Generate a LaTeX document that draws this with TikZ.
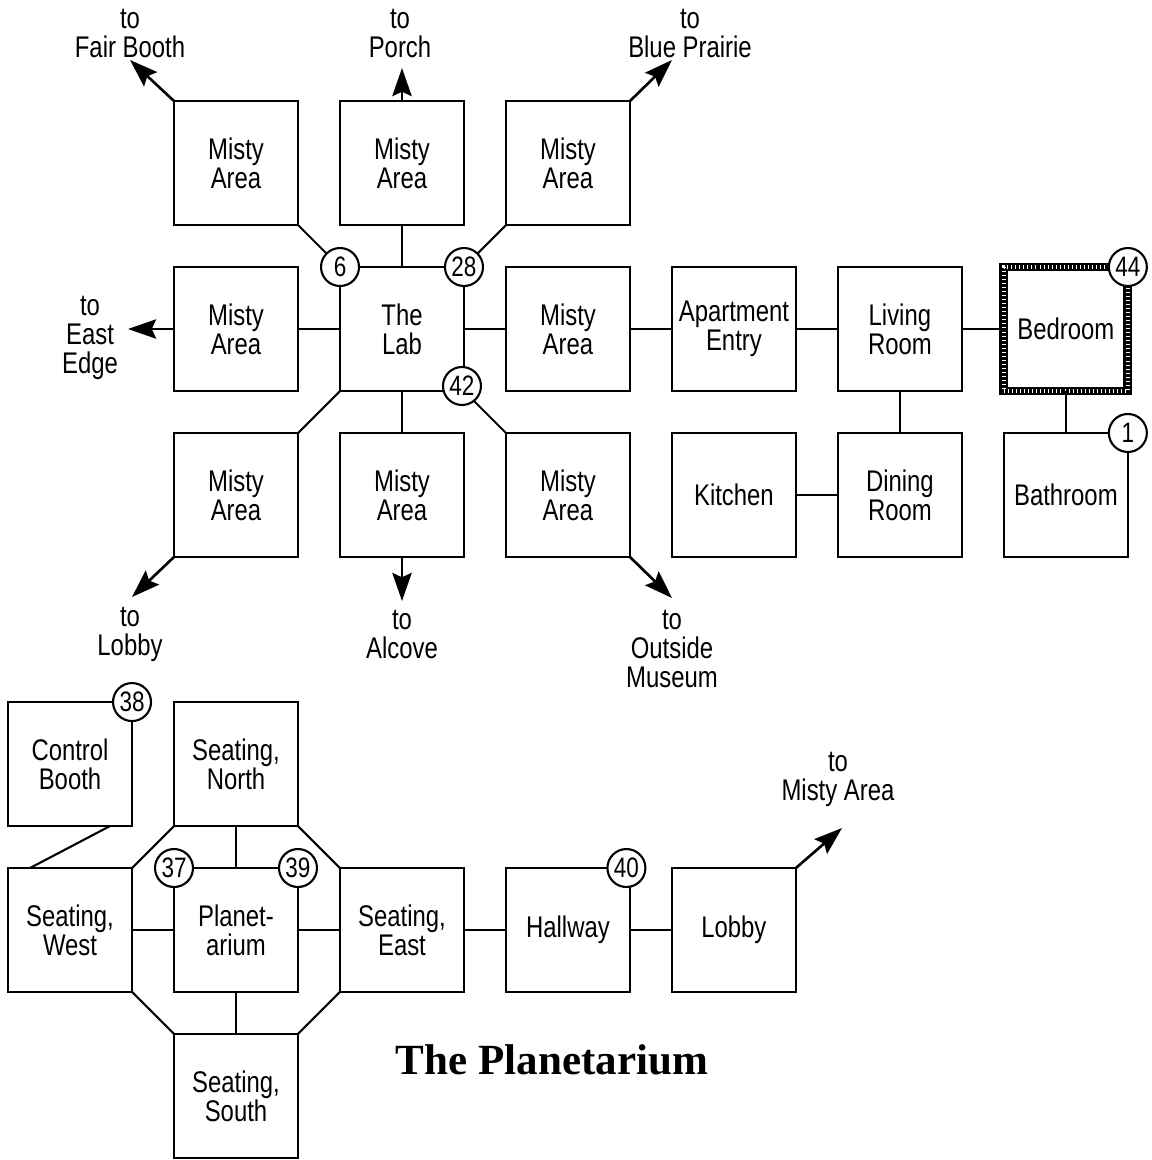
\documentclass[tikz,border=0pt]{standalone}
\usepackage{fontspec}
\setmainfont{Liberation Serif}
\newfontfamily\roomfont[FakeStretch=0.8]{Liberation Sans}
\usetikzlibrary{arrows.meta,positioning,calc}

\begin{document}
\begin{tikzpicture}[
  x=0.02cm,y=-0.02cm,
  node distance=0.84cm,
  room/.style={draw,line width=1.2pt,outer sep=0pt,inner sep=0pt,minimum width=2.48cm,minimum height=2.48cm,align=center,font=\roomfont\fontsize{17}{16.5}\selectfont},
  bedroom/.style={room,line width=5pt,postaction={draw=white,line width=2pt,dash pattern=on 0.5pt off 1.8pt}},
  num/.style={circle,draw,fill=white,line width=1.2pt,minimum size=0.76cm,inner sep=0pt,font=\roomfont\fontsize{16}{16}\selectfont},
  lbl/.style={align=center,inner sep=0pt,font=\roomfont\fontsize{17}{16.5}\selectfont},
  link/.style={line width=1.2pt},
  arr/.style={-{Stealth[length=16pt,width=11pt,inset=2.5pt]},line width=1.5pt}
]
\useasboundingbox (0,0) rectangle (1152,1160);

% the lab and the misty areas round it
\node[room] (lab) at (402,329) {The\\Lab};
\node[room,left=of lab] (mawest) {Misty\\Area};
\node[room,right=of lab] (maeast) {Misty\\Area};
\node[room,above=of lab] (manorth) {Misty\\Area};
\node[room,below=of lab] (masouth) {Misty\\Area};
\node[room,above=of mawest] (manw) {Misty\\Area};
\node[room,above=of maeast] (mane) {Misty\\Area};
\node[room,below=of mawest] (masw) {Misty\\Area};
\node[room,below=of maeast] (mase) {Misty\\Area};

% the apartment
\node[room,right=of maeast] (entry) {Apartment\\Entry};
\node[room,right=of entry] (living) {Living\\Room};
\node[bedroom,right=of living] (bed) {Bedroom};
\node[room,below=of entry] (kitchen) {Kitchen};
\node[room,below=of living] (dining) {Dining\\Room};
\node[room,below=of bed] (bath) {Bathroom};

\draw[link] (manw.south east) -- (lab.north west);
\draw[link] (manorth) -- (lab);
\draw[link] (mane.south west) -- (lab.north east);
\draw[link] (mawest) -- (lab);
\draw[link] (lab) -- (maeast);
\draw[link] (masw.north east) -- (lab.south west);
\draw[link] (masouth) -- (lab);
\draw[link] (mase.north west) -- (lab.south east);
\draw[link] (maeast) -- (entry);
\draw[link] (entry) -- (living);
\draw[link] (living) -- (bed);
\draw[link] (living) -- (dining);
\draw[link] (kitchen) -- (dining);
\draw[link] (bed) -- (bath);

\node[num] (n6) at (lab.north west) {6};
\node[num] (n28) at (lab.north east) {28};
\node[num] (n42) at ([shift={(-2,-5)}]lab.south east) {42};
\node[num] (n44) at (bed.north east) {44};
\node[num] (n1) at (bath.north east) {1};

% exits
\node[lbl] (fair) at (130,33) {to\\Fair Booth};
\node[lbl] (porch) at (400,33) {to\\Porch};
\node[lbl] (prairie) at (690,33) {to\\Blue Prairie};
\node[lbl] (edge) at (90,338) {to\\East\\Edge};
\node[lbl] (lobbyto) at (130,634) {to\\Lobby};
\node[lbl] (alcove) at (402,634) {to\\Alcove};
\node[lbl] (museum) at (672,649) {to\\Outside\\Museum};
\coordinate (tofair) at (130,60);
\coordinate (toporch) at (402,68);
\coordinate (toprairie) at (672,60);
\coordinate (toedge) at (128,329);
\coordinate (tolobby) at (132,597);
\coordinate (toalcove) at (402,601);
\coordinate (tomuseum) at (672,598);
\draw[arr] (manw.north west) -- (tofair);
\draw[arr] (manorth.north) -- (toporch);
\draw[arr] (mane.north east) -- (toprairie);
\draw[arr] (mawest.west) -- (toedge);
\draw[arr] (masw.south west) -- (tolobby);
\draw[arr] (masouth.south) -- (toalcove);
\draw[arr] (mase.south east) -- (tomuseum);

% the planetarium
\node[room] (planet) at (236,930) {Planet-\\arium};
\node[room,above=of planet] (snorth) {Seating,\\North};
\node[room,below=of planet] (ssouth) {Seating,\\South};
\node[room,left=of planet] (swest) {Seating,\\West};
\node[room,right=of planet] (seast) {Seating,\\East};
\node[room,above=of swest] (booth) {Control\\Booth};
\node[room,right=of seast] (hall) {Hallway};
\node[room,right=of hall] (lobby) {Lobby};

\draw[link] ([xshift=0.8cm]booth.south) -- ([xshift=-0.8cm]swest.north);
\draw[link] (snorth.south west) -- (swest.north east);
\draw[link] (snorth) -- (planet);
\draw[link] (snorth.south east) -- (seast.north west);
\draw[link] (swest) -- (planet);
\draw[link] (planet) -- (seast);
\draw[link] (seast) -- (hall);
\draw[link] (hall) -- (lobby);
\draw[link] (swest.south east) -- (ssouth.north west);
\draw[link] (planet) -- (ssouth);
\draw[link] (seast.south west) -- (ssouth.north east);

\node[num] (n38) at (booth.north east) {38};
\node[num] (n37) at (planet.north west) {37};
\node[num] (n39) at (planet.north east) {39};
\node[num] (n40) at ([xshift=-2]hall.north east) {40};

\node[lbl] (misty) at (838,779) {to\\Misty Area};
\coordinate (tomisty) at (842,828);
\draw[arr] (lobby.north east) -- (tomisty);

\node[font=\bfseries\fontsize{24.5}{26}\selectfont] (title) at (552,1060) {The Planetarium};
\end{tikzpicture}
\end{document}
